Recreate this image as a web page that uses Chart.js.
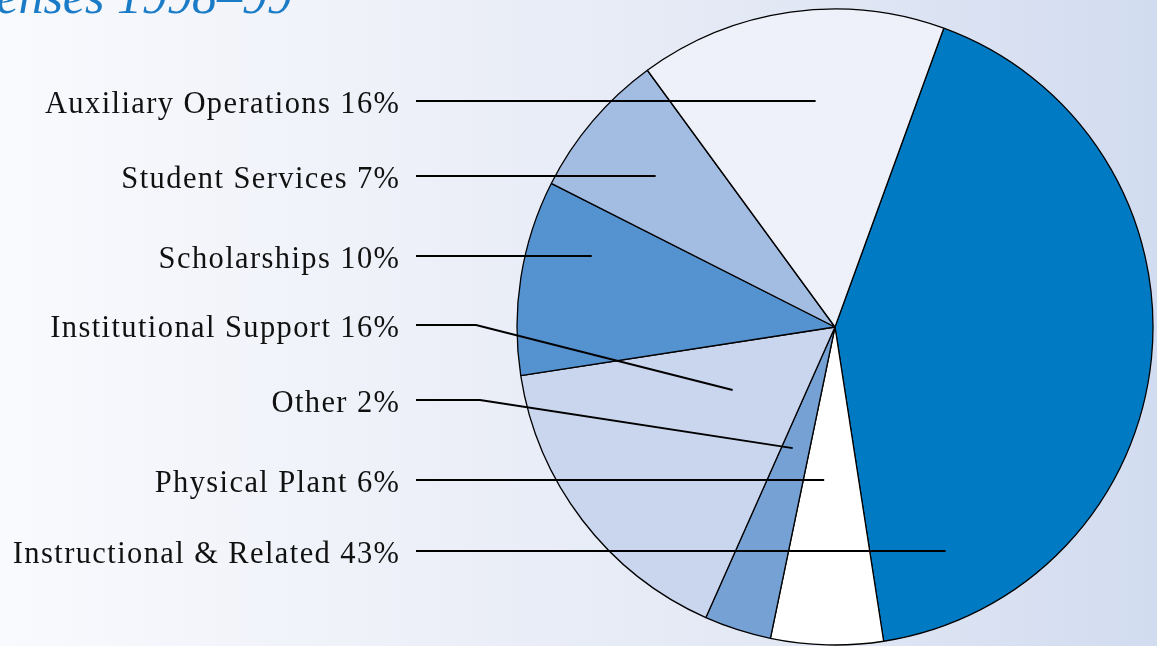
<!DOCTYPE html>
<html><head><meta charset="utf-8">
<script src="https://cdn.jsdelivr.net/npm/chart.js@4.4.1/dist/chart.umd.min.js"></script>
<style>
html,body{margin:0;padding:0;width:1157px;height:646px;overflow:hidden;}
body{background:linear-gradient(to right,#f9fafd 0%,#eceff8 40%,#e1e7f4 70%,#d2dcf0 100%);}
#wrap{position:relative;width:1157px;height:646px;}
</style></head><body>
<div id="wrap"><canvas id="pie"></canvas></div>
<script>
// categorías en el orden en que Chart.js recorre la torta (horario desde 'rotation')
const categories=['Instructional & Related','Physical Plant','Other','Institutional Support','Scholarships','Student Services','Auxiliary Operations'];
// porcentaje impreso en cada rótulo
const labelPct=[43,6,2,16,10,7,16];
// tamaño de cada porción medido en el dibujo (no es exactamente el % impreso)
const sliceValues=[42.0,5.7,3.4,15.9,9.9,7.5,15.6];
const sliceColors=['#007ac3','#ffffff','#76a1d4','#cad5ee','#5592d0','#a3bce2','#eef1f9'];
// orden de los rótulos de arriba hacia abajo (índices en categories)
const rowOrder=[6,5,4,3,2,1,0];
const titleText='Expenses 1998–99';

// layout de rótulos y líneas guía: y de la fila, quiebre opcional, punta relativa al centro (en radios)
const leaderLayout=[
  {y:101,kink:null,tip:[-0.061,null]},
  {y:176,kink:null,tip:[-0.564,null]},
  {y:256,kink:null,tip:[-0.765,null]},
  {y:325,kink:476,tip:[-0.322,0.198]},
  {y:400,kink:480,tip:[-0.133,0.381]},
  {y:480,kink:null,tip:[-0.034,null]},
  {y:551,kink:null,tip:[0.348,null]},
];
const textRight=399, lineStart=416;

const annot={id:'annot',afterDraw(chart){
  const ctx=chart.ctx, arc=chart.getDatasetMeta(0).data[0];
  const cx=arc.x, cy=arc.y, R=arc.outerRadius;
  ctx.save();
  // título (cortado arriba, como en el original)
  ctx.font='italic 50px "Liberation Serif"';
  ctx.fillStyle='#1a7cc6';ctx.textAlign='right';ctx.textBaseline='alphabetic';
  ctx.fillText(titleText,292,13);
  // líneas guía
  ctx.strokeStyle='#000';ctx.lineWidth=1.9;ctx.lineJoin='miter';
  rowOrder.forEach((idx,r)=>{
    const L=leaderLayout[r];
    const tx=cx+L.tip[0]*R, ty=L.tip[1]===null?L.y:cy+L.tip[1]*R;
    ctx.beginPath();ctx.moveTo(lineStart,L.y);
    if(L.kink!==null) ctx.lineTo(L.kink,L.y);
    ctx.lineTo(tx,ty);ctx.stroke();
  });
  // rótulos
  const sp=1.4;
  ctx.font='30.5px "Liberation Serif"';
  ctx.fillStyle='#111';ctx.textAlign='right';
  ctx.letterSpacing=sp+'px';
  rowOrder.forEach((idx,r)=>{
    const L=leaderLayout[r];
    ctx.fillText(categories[idx]+' '+labelPct[idx]+'%',textRight+sp,L.y+11.5);
  });
  ctx.restore();
}};

new Chart(document.getElementById('pie').getContext('2d'),{
  type:'pie',
  data:{labels:categories,datasets:[{data:sliceValues,backgroundColor:sliceColors,borderColor:'#000',borderWidth:1.3}]},
  options:{responsive:true,maintainAspectRatio:false,animation:false,rotation:20,radius:318,
    layout:{padding:{left:517,right:4,top:9,bottom:1}},
    plugins:{legend:{display:false},tooltip:{enabled:false},title:{display:false}}},
  plugins:[annot]
});
</script>
</body></html>
